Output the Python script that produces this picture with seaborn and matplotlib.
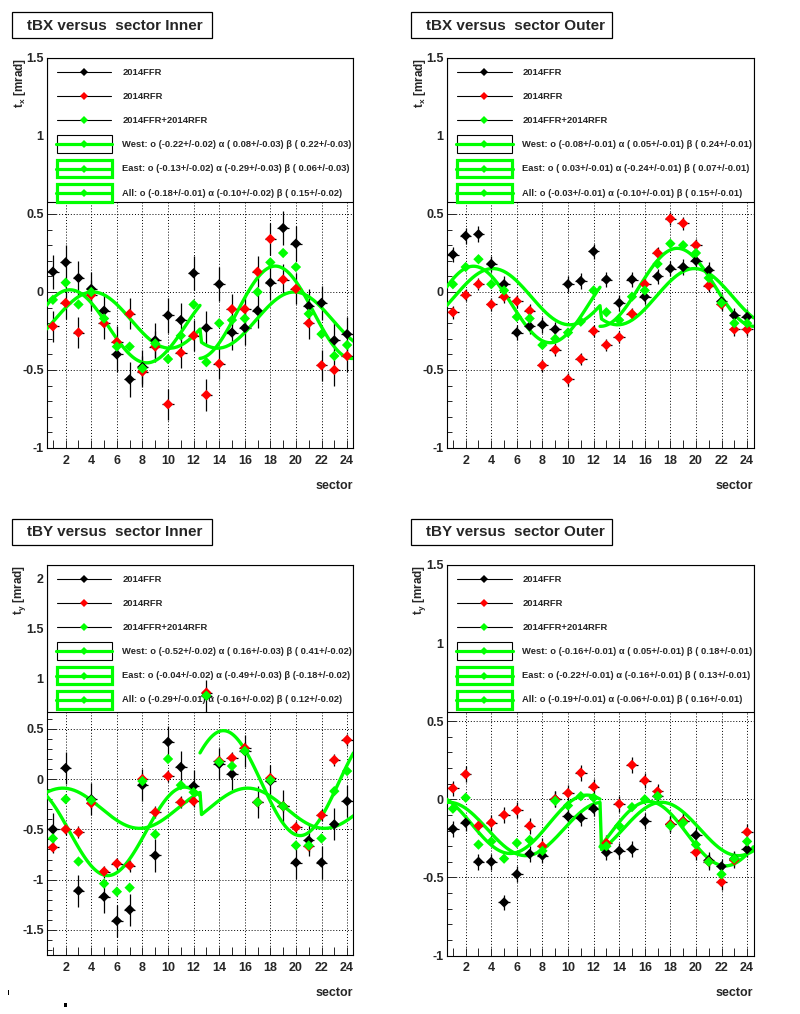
import numpy as np
import pandas as pd
import matplotlib
matplotlib.use("Agg")
import matplotlib.pyplot as plt
from matplotlib.patches import Rectangle
from matplotlib.lines import Line2D
from matplotlib.ticker import MultipleLocator, FuncFormatter
import seaborn as sns

# ---------------- data ----------------
sectors = list(range(1, 25))
series_names = ["2014FFR", "2014RFR", "2014FFR+2014RFR"]
series_colors = ["black", "red", "#00ff00"]

tbx_inner_ffr = [0.13, 0.19, 0.09, 0.02, -0.12, -0.40, -0.56, -0.48, -0.31, -0.15, -0.18, 0.12,
                 -0.23, 0.05, -0.26, -0.23, -0.12, 0.06, 0.41, 0.31, -0.09, -0.07, -0.31, -0.27]
tbx_inner_rfr = [-0.22, -0.07, -0.26, -0.02, -0.20, -0.32, -0.14, -0.51, -0.35, -0.72, -0.39, -0.28,
                 -0.66, -0.46, -0.11, -0.11, 0.13, 0.34, 0.08, 0.02, -0.20, -0.47, -0.50, -0.41]
tbx_inner_all = [-0.05, 0.06, -0.08, 0.00, -0.17, -0.35, -0.35, -0.49, -0.33, -0.43, -0.28, -0.08,
                 -0.45, -0.20, -0.18, -0.17, 0.00, 0.19, 0.25, 0.16, -0.14, -0.27, -0.41, -0.34]

tbx_outer_ffr = [0.24, 0.36, 0.37, 0.18, 0.05, -0.26, -0.22, -0.21, -0.24, 0.05, 0.07, 0.26,
                 0.08, -0.07, 0.08, -0.03, 0.10, 0.15, 0.16, 0.20, 0.14, -0.06, -0.15, -0.16]
tbx_outer_rfr = [-0.13, -0.02, 0.05, -0.08, -0.03, -0.06, -0.12, -0.47, -0.37, -0.56, -0.43, -0.25,
                 -0.34, -0.29, -0.14, 0.05, 0.25, 0.47, 0.44, 0.30, 0.04, -0.08, -0.24, -0.24]
tbx_outer_all = [0.05, 0.16, 0.21, 0.05, 0.01, -0.16, -0.17, -0.34, -0.30, -0.26, -0.19, 0.01,
                 -0.13, -0.18, -0.03, 0.01, 0.18, 0.31, 0.30, 0.25, 0.09, -0.07, -0.20, -0.20]

tby_inner_ffr = [-0.50, 0.11, -1.11, -0.20, -1.17, -1.41, -1.30, -0.06, -0.76, 0.37, 0.12, -0.07,
                 0.83, 0.15, 0.05, 0.28, -0.23, -0.02, -0.27, -0.83, -0.61, -0.83, -0.45, -0.22]
tby_inner_rfr = [-0.68, -0.50, -0.53, -0.24, -0.92, -0.84, -0.86, 0.00, -0.33, 0.03, -0.23, -0.22,
                 0.86, 0.18, 0.21, 0.31, -0.23, 0.01, -0.27, -0.48, -0.67, -0.36, 0.19, 0.39]
tby_inner_all = [-0.59, -0.20, -0.82, -0.21, -1.04, -1.12, -1.08, -0.02, -0.55, 0.20, -0.06, -0.13,
                 0.83, 0.17, 0.13, 0.28, -0.23, -0.01, -0.27, -0.66, -0.66, -0.59, -0.12, 0.08]

tby_outer_ffr = [-0.19, -0.15, -0.40, -0.40, -0.66, -0.48, -0.35, -0.36, 0.00, -0.11, -0.12, -0.06,
                 -0.34, -0.33, -0.32, -0.14, 0.02, -0.16, -0.14, -0.23, -0.39, -0.43, -0.38, -0.32]
tby_outer_rfr = [0.07, 0.16, -0.17, -0.15, -0.10, -0.07, -0.17, -0.30, 0.00, 0.04, 0.17, 0.08,
                 -0.28, -0.03, 0.22, 0.12, 0.05, -0.16, -0.14, -0.34, -0.40, -0.53, -0.39, -0.21]
tby_outer_all = [-0.06, 0.01, -0.29, -0.27, -0.38, -0.28, -0.26, -0.33, -0.01, -0.04, 0.02, 0.01,
                 -0.30, -0.17, -0.05, 0.00, 0.02, -0.17, -0.15, -0.29, -0.40, -0.48, -0.38, -0.27]

# estimated vertical error bars (ffr, rfr)
tbx_inner_err = [0.11, 0.10]
tbx_outer_err = [0.05, 0.04]
tby_inner_err = [0.16, 0.06]
tby_outer_err = [0.05, 0.05]

# fit parameters from the legends: (o, alpha, beta) values and their errors
tbx_inner_west = [-0.22, 0.08, 0.22]; tbx_inner_west_e = [0.02, 0.03, 0.03]
tbx_inner_east = [-0.13, -0.29, 0.06]; tbx_inner_east_e = [0.02, 0.03, 0.03]
tbx_inner_both = [-0.18, -0.10, 0.15]; tbx_inner_both_e = [0.01, 0.02, 0.02]

tbx_outer_west = [-0.08, 0.05, 0.24]; tbx_outer_west_e = [0.01, 0.01, 0.01]
tbx_outer_east = [0.03, -0.24, 0.07]; tbx_outer_east_e = [0.01, 0.01, 0.01]
tbx_outer_both = [-0.03, -0.10, 0.15]; tbx_outer_both_e = [0.01, 0.01, 0.01]

tby_inner_west = [-0.52, 0.16, 0.41]; tby_inner_west_e = [0.02, 0.03, 0.02]
tby_inner_east = [-0.04, -0.49, -0.18]; tby_inner_east_e = [0.02, 0.03, 0.02]
tby_inner_both = [-0.29, -0.16, 0.12]; tby_inner_both_e = [0.01, 0.02, 0.02]

tby_outer_west = [-0.16, 0.05, 0.18]; tby_outer_west_e = [0.01, 0.01, 0.01]
tby_outer_east = [-0.22, -0.16, 0.13]; tby_outer_east_e = [0.01, 0.01, 0.01]
tby_outer_both = [-0.19, -0.06, 0.16]; tby_outer_both_e = [0.01, 0.01, 0.01]

titles = ["tBX versus  sector Inner", "tBX versus  sector Outer",
          "tBY versus  sector Inner", "tBY versus  sector Outer"]
ylabels = ["t$_{x}$ [mrad]", "t$_{x}$ [mrad]", "t$_{y}$ [mrad]", "t$_{y}$ [mrad]"]
xlabel = "sector"

# ---------------- style ----------------
sns.set_theme(style="white")
plt.rcParams["font.family"] = ["Liberation Sans", "DejaVu Sans"]
plt.rcParams["font.weight"] = "bold"
plt.rcParams["mathtext.fontset"] = "custom"
plt.rcParams["mathtext.rm"] = "Liberation Sans:bold"
plt.rcParams["mathtext.it"] = "Liberation Sans:bold"
plt.rcParams["mathtext.bf"] = "Liberation Sans:bold"
plt.rcParams["mathtext.default"] = "rm"

FW, FH = 800, 1014
fig = plt.figure(figsize=(FW / 100, FH / 100), dpi=100)
fig.patch.set_facecolor("white")

GREEN = "#00ff00"


def frect(l, t, r, b):
    return [l / FW, 1 - b / FH, (r - l) / FW, (b - t) / FH]


def model(x, p, kind, side):
    """Fit function o + alpha/beta harmonic terms; side: 'west', 'east' or 'all'."""
    o, a, b = p
    x = np.asarray(x, dtype=float)
    if side == "west":
        is_w = np.ones_like(x, dtype=bool)
    elif side == "east":
        is_w = np.zeros_like(x, dtype=bool)
    else:
        is_w = x <= 12.5
    ph = np.where(is_w, np.deg2rad(90 - 30 * x), np.deg2rad(30 * x - 270))
    if kind == "x":
        return o + a * np.sin(ph) + b * np.cos(ph)
    west = o - a * np.cos(ph) + b * np.sin(ph)
    east = o + a * np.cos(ph) - b * np.sin(ph)
    return np.where(is_w, west, east)


def fmt_par(v, e):
    return "(%5.2f+/-%.2f)" % (v, e)


def fit_text(name, p, e):
    return "%s: o %s \u03b1 %s \u03b2 %s" % (name, fmt_par(p[0], e[0]), fmt_par(p[1], e[1]), fmt_par(p[2], e[2]))


panels = [
    dict(box=(46.5, 58, 353.5, 448), ylim=(-1, 1.5), vals=[tbx_inner_ffr, tbx_inner_rfr, tbx_inner_all],
         err=tbx_inner_err, fits=[(tbx_inner_west, tbx_inner_west_e), (tbx_inner_east, tbx_inner_east_e),
                                  (tbx_inner_both, tbx_inner_both_e)], kind="x",
         tbox=(12, 12, 212, 38), leg_h=144),
    dict(box=(446.5, 58, 753.5, 448), ylim=(-1, 1.5), vals=[tbx_outer_ffr, tbx_outer_rfr, tbx_outer_all],
         err=tbx_outer_err, fits=[(tbx_outer_west, tbx_outer_west_e), (tbx_outer_east, tbx_outer_east_e),
                                  (tbx_outer_both, tbx_outer_both_e)], kind="x",
         tbox=(411, 12, 612, 38), leg_h=144),
    dict(box=(46.5, 565, 353.5, 955), ylim=(-1.75, 2.13), vals=[tby_inner_ffr, tby_inner_rfr, tby_inner_all],
         err=tby_inner_err, fits=[(tby_inner_west, tby_inner_west_e), (tby_inner_east, tby_inner_east_e),
                                  (tby_inner_both, tby_inner_both_e)], kind="y",
         tbox=(12, 519, 212, 545), leg_h=147),
    dict(box=(446.5, 565, 753.5, 955.5), ylim=(-1, 1.5), vals=[tby_outer_ffr, tby_outer_rfr, tby_outer_all],
         err=tby_outer_err, fits=[(tby_outer_west, tby_outer_west_e), (tby_outer_east, tby_outer_east_e),
                                  (tby_outer_both, tby_outer_both_e)], kind="y",
         tbox=(411, 519, 612, 545), leg_h=147),
]

gfmt = FuncFormatter(lambda v, pos: ("%g" % round(v, 3)) if abs(v) > 1e-9 else "0")

for i, P in enumerate(panels):
    l, t, r, b = P["box"]
    W, H = r - l, b - t
    ax = fig.add_axes(frect(l, t, r, b))
    ax.set_facecolor("white")
    ax.set_xlim(0.5, 24.5)
    ax.set_ylim(*P["ylim"])
    ax.set_axisbelow(True)

    rows = []
    for name, vals in zip(series_names, P["vals"]):
        for s, v in zip(sectors, vals):
            rows.append({"sector": s, "value": v, "series": name})
    df = pd.DataFrame(rows)

    # error bars (black)
    for k in range(2):
        sub = df[df["series"] == series_names[k]]
        ax.errorbar(sub["sector"], sub["value"], yerr=P["err"][k], xerr=0.45, fmt="none",
                    ecolor="black", elinewidth=0.9, capsize=0, zorder=2.6)

    # fit curves
    kind = P["kind"]
    xw = np.linspace(0.5, 12.5, 101)
    xe = np.linspace(12.5, 24.5, 101)
    xa = np.linspace(0.5, 24.5, 201)
    for xs, side, (p, e) in zip([xw, xe, xa], ["west", "east", "all"], P["fits"]):
        sns.lineplot(x=xs, y=model(xs, p, kind, side), ax=ax, color=GREEN, lw=2.4,
                     sort=False, estimator=None, legend=False, zorder=3)

    # markers
    sns.scatterplot(data=df, x="sector", y="value", hue="series",
                    palette=dict(zip(series_names, series_colors)), marker="D", s=28,
                    linewidth=0, legend=False, ax=ax, zorder=4)

    # axes styling
    ax.xaxis.set_major_locator(MultipleLocator(2))
    ax.xaxis.set_minor_locator(MultipleLocator(1))
    ax.yaxis.set_major_locator(MultipleLocator(0.5))
    ax.yaxis.set_minor_locator(MultipleLocator(0.1))
    ax.yaxis.set_major_formatter(gfmt)
    ax.tick_params(axis="x", which="both", direction="in", length=5.5, width=0.7,
                   labelsize=9, pad=5, top=False, bottom=True)
    ax.tick_params(axis="y", which="major", direction="in", length=6.5, width=0.7,
                   labelsize=9, pad=2, left=True, right=False)
    ax.tick_params(axis="y", which="minor", direction="in", length=3.5, width=0.7,
                   left=True, right=False)
    for lab in ax.get_xticklabels() + ax.get_yticklabels():
        lab.set_fontweight("bold")
    ax.grid(True, which="major", color="black", linestyle=(0, (1, 2)), linewidth=0.7)
    for sp in ax.spines.values():
        sp.set_color("black")
        sp.set_linewidth(0.8)
    ax.set_xlabel("")
    ax.set_ylabel("")

    # ---- legend box drawn inside the axes ----
    lh = P["leg_h"]
    ax.add_patch(Rectangle((0, 1 - lh / H), 1, lh / H, transform=ax.transAxes,
                           facecolor="white", edgecolor="black", lw=0.8, zorder=1.6))
    row_off = [14, 38, 62, 86, 110.5, 135]
    texts = list(series_names) + [fit_text("West", *P["fits"][0]),
                                  fit_text("East", *P["fits"][1]),
                                  fit_text("All", *P["fits"][2])]
    for k, (off, txt) in enumerate(zip(row_off, texts)):
        yy = 1 - off / H
        if k < 3:
            ax.add_line(Line2D([10 / W, 65 / W], [yy, yy], transform=ax.transAxes,
                               color="black", lw=0.8, zorder=1.7))
            mcol = series_colors[k]
        else:
            ec, elw = ("black", 0.8) if k == 3 else (GREEN, 2.3)
            ax.add_patch(Rectangle((10.3 / W, yy - 8.7 / H), 55 / W, 17.4 / H, transform=ax.transAxes,
                                   facecolor="white", edgecolor=ec, lw=elw, zorder=1.7))
            ax.add_line(Line2D([9.5 / W, 66 / W], [yy, yy], transform=ax.transAxes,
                               color=GREEN, lw=2.3, zorder=1.8))
            mcol = GREEN
        ax.add_line(Line2D([37.6 / W], [yy], transform=ax.transAxes, marker="D", markersize=4.5,
                           markerfacecolor=mcol, markeredgewidth=0, linestyle="none", zorder=1.9))
        ax.text(76 / W, yy, txt, transform=ax.transAxes, fontsize=6.75, fontweight="bold",
                va="center", ha="left", zorder=1.9)

    # ---- title box ----
    tl, tt, tr, tb = P["tbox"]
    fig.patches.append(Rectangle((tl / FW, 1 - tb / FH), (tr - tl) / FW, (tb - tt) / FH,
                                 transform=fig.transFigure, facecolor="white", edgecolor="black", lw=0.9))
    fig.text((tl + 15) / FW, 1 - ((tt + tb) / 2 + 0.5) / FH, titles[i], fontsize=11,
             fontweight="bold", ha="left", va="center")

    # ---- axis titles ----
    fig.text((l - 26.5) / FW, 1 - t / FH, ylabels[i], rotation=90, fontsize=8.5,
             fontweight="bold", ha="center", va="top")
    fig.text(r / FW, 1 - (b + 38) / FH, xlabel, fontsize=9, fontweight="bold",
             ha="right", va="center")

# small stray marks seen at the bottom-left of the reference
fig.patches.append(Rectangle((7.5 / FW, 1 - 995 / FH), 1.2 / FW, 5 / FH, transform=fig.transFigure,
                             facecolor="black", edgecolor="none"))
fig.patches.append(Rectangle((63.5 / FW, 1 - 1007 / FH), 3 / FW, 4 / FH, transform=fig.transFigure,
                             facecolor="black", edgecolor="none"))

fig.savefig("out.png", dpi=100, facecolor="white")
